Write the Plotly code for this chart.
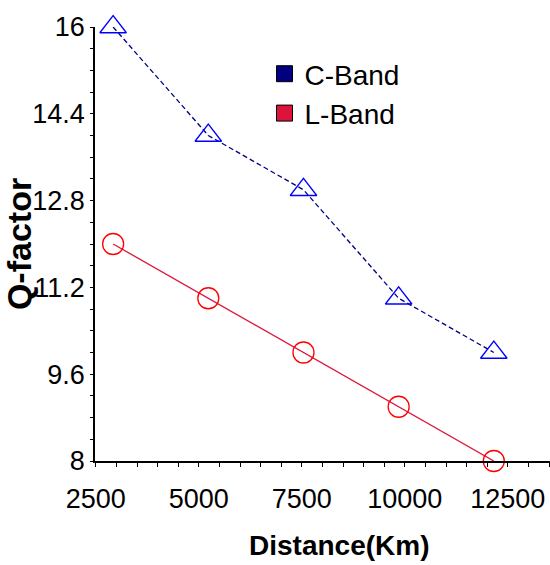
import plotly.graph_objects as go

# Transmission distance (km) and measured Q-factor for each band
distance_km = [2920, 5230, 7540, 9850, 12160]
q_c_band = [16.0, 14.0, 13.0, 11.0, 10.0]
q_l_band = [12.0, 11.0, 10.0, 9.0, 8.0]

x_tick_values = [2500, 5000, 7500, 10000, 12500]
x_tick_labels = ["2500", "5000", "7500", "10000", "12500"]
y_tick_values = [8, 9.6, 11.2, 12.8, 14.4, 16]
y_tick_labels = ["8", "9.6", "11.2", "12.8", "14.4", "16"]

FONT = "Liberation Sans, Arial, sans-serif"

C_LINE = "#000080"
C_MARK = "#0000FF"
L_LINE = "#DC143C"
L_MARK = "#FF0000"

fig = go.Figure()

fig.add_trace(go.Scatter(
    x=distance_km, y=q_c_band, mode="lines+markers", name="C-Band",
    line=dict(color=C_LINE, width=1.3, dash="5px,3px"),
    marker=dict(symbol="triangle-up-open", size=23, color=C_MARK,
                line=dict(color=C_MARK, width=1.3)),
    cliponaxis=False, showlegend=False,
))
fig.add_trace(go.Scatter(
    x=distance_km, y=q_l_band, mode="lines+markers", name="L-Band",
    line=dict(color=L_LINE, width=1.3),
    marker=dict(symbol="circle-open", size=21, color=L_MARK,
                line=dict(color=L_MARK, width=1.3)),
    cliponaxis=False, showlegend=False,
))

# Legend entries drawn as filled swatches
for name, col in (("C-Band", C_LINE), ("L-Band", L_LINE)):
    fig.add_trace(go.Scatter(
        x=[None], y=[None], mode="markers", name=name,
        marker=dict(symbol="square", size=16, color=col,
                    line=dict(color="#000000", width=1)),
    ))

fig.update_layout(
    width=550, height=565,
    margin=dict(l=95, r=0, t=27, b=104),
    paper_bgcolor="white", plot_bgcolor="white",
    font=dict(family=FONT, color="black"),
    legend=dict(
        x=(264.5 - 95) / 455, y=1 - 22 / 434, xanchor="left", yanchor="top",
        font=dict(family=FONT, size=28, color="black"),
        bgcolor="rgba(0,0,0,0)", itemwidth=30, tracegroupgap=0,
    ),
    annotations=[dict(
        text="<b>Distance(Km)</b>", xref="paper", yref="paper",
        x=(339 - 95) / 455, y=-(545 - 461) / 434,
        xanchor="center", yanchor="middle", showarrow=False,
        font=dict(family=FONT, size=28, color="black"),
    )],
)

fig.update_xaxes(
    range=[2480, 13524], tickmode="array", tickvals=x_tick_values,
    ticktext=x_tick_labels,
    showline=True, linecolor="black", linewidth=1.5, mirror=False,
    ticks="outside", ticklen=4, tickwidth=1, tickcolor="black",
    minor=dict(dtick=500, tick0=2500, ticks="outside", ticklen=4,
               tickwidth=1, tickcolor="black", showgrid=False),
    showgrid=False, zeroline=False, ticklabelstandoff=9,
    tickfont=dict(family=FONT, size=27, color="black"),
)
fig.update_yaxes(
    range=[8, 16], tickmode="array", tickvals=y_tick_values, ticktext=y_tick_labels,
    showline=True, linecolor="black", linewidth=1.5, mirror=False,
    ticks="outside", ticklen=3, tickwidth=1, tickcolor="black",
    minor=dict(dtick=0.4, tick0=8, ticks="outside", ticklen=3,
               tickwidth=1, tickcolor="black", showgrid=False),
    showgrid=False, zeroline=False,
    tickfont=dict(family=FONT, size=27, color="black"),
    title=dict(text="<b>Q-factor</b>", standoff=6,
               font=dict(family=FONT, size=34, color="black")),
)

fig.write_html("out.html")
